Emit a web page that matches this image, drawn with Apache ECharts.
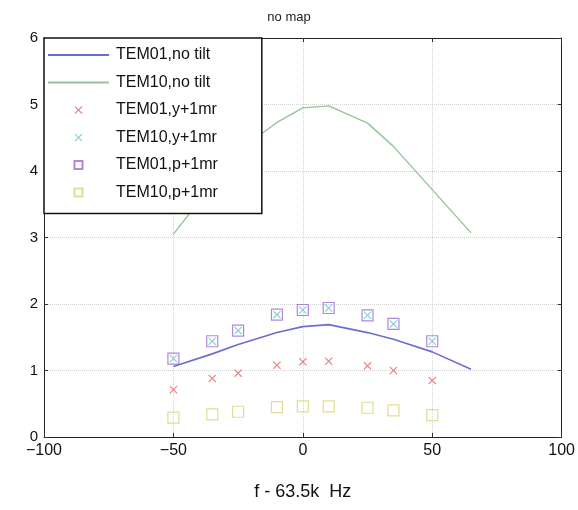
<!DOCTYPE html>
<html>
<head>
<meta charset="utf-8">
<script src="https://cdn.jsdelivr.net/npm/echarts@6/dist/echarts.min.js"></script>
<style>
  html, body { margin: 0; padding: 0; background: #fff; }
  #chart { width: 578px; height: 510px; }
</style>
</head>
<body>
<div id="chart"></div>
<script>
// Frequency offsets (Hz) of the measured points and of the model curves
const markerFreqs = [-50, -35, -25, -10, 0, 10, 25, 35, 50];
const curveFreqs = [-50, -35, -25, -10, 0, 10, 25, 35, 50, 65];

// Model curves without tilt
const tem01NoTilt = [1.06, 1.25, 1.39, 1.57, 1.66, 1.69, 1.57, 1.47, 1.28, 1.02];
const tem10NoTilt = [3.05, 3.80, 4.30, 4.73, 4.95, 4.98, 4.72, 4.37, 3.72, 3.07];

// Points with 1 mrad yaw / pitch
const tem01Yaw = [0.71, 0.88, 0.96, 1.08, 1.13, 1.14, 1.07, 1.00, 0.85];
const tem10Yaw = [1.18, 1.44, 1.60, 1.84, 1.91, 1.94, 1.83, 1.70, 1.44];
const tem01Pitch = [1.18, 1.44, 1.60, 1.84, 1.91, 1.94, 1.83, 1.70, 1.44];
const tem10Pitch = [0.29, 0.34, 0.38, 0.45, 0.46, 0.46, 0.44, 0.40, 0.33];

const xTicks = [-100, -50, 0, 50, 100];
const yTicks = [0, 1, 2, 3, 4, 5, 6];

const seriesNames = [
  'TEM01,no tilt', 'TEM10,no tilt',
  'TEM01,y+1mr', 'TEM10,y+1mr',
  'TEM01,p+1mr', 'TEM10,p+1mr'
];

const pairs = (xs, ys) => xs.map((x, i) => [x, ys[i]]);

// Cross marker as a filled outline, hollow square as a path so it keeps its aspect in the legend
const crossPath = 'path://M0,1L1,0L5,4L9,0L10,1L6,5L10,9L9,10L5,6L1,10L0,9L4,5Z';
const squarePath = 'path://M0,0L10,0L10,10L0,10Z';

const FONT = '"Liberation Sans", Arial, sans-serif';
const minusFmt = v => String(v).replace('-', '\u2212');

const chart = echarts.init(document.getElementById('chart'), null, { renderer: 'canvas' });

const axisLine = { show: true, onZero: false, lineStyle: { color: '#222', width: 1 } };
const tick = { show: true, inside: true, length: 4, lineStyle: { color: '#333' } };
const gridLine = { show: true, lineStyle: { color: '#d4d4d4', type: 'dotted', width: 1 } };

// Legend entries: lines show only their stroke, markers keep their shape
const noDot = { color: 'rgba(0,0,0,0)', borderWidth: 0 };
const legendData = [
  { name: seriesNames[0], itemStyle: noDot },
  { name: seriesNames[1], itemStyle: noDot },
  { name: seriesNames[2] },
  { name: seriesNames[3] },
  { name: seriesNames[4], icon: squarePath },
  { name: seriesNames[5], icon: squarePath }
];

chart.setOption({
  backgroundColor: '#fff',
  animation: false,
  title: {
    text: 'no map',
    left: 'center',
    top: 6,
    textStyle: { fontFamily: FONT, fontSize: 13, fontWeight: 'normal', color: '#222' }
  },
  grid: { left: 44, right: 15, top: 38, bottom: 73 },
  legend: {
    orient: 'vertical',
    left: 44,
    top: 38,
    data: legendData,
    backgroundColor: '#fff',
    borderColor: '#111',
    borderWidth: 1.5,
    borderRadius: 0,
    padding: [9, 44, 13, 3],
    itemWidth: 61,
    itemHeight: 8,
    itemGap: 11.5,
    symbolKeepAspect: true,
    textStyle: { fontFamily: FONT, fontSize: 16, lineHeight: 16, color: '#111', padding: [0, 0, 0, 2] },
    z: 10
  },
  xAxis: [
    {
      type: 'value', position: 'bottom', min: -100, max: 100, interval: 50,
      axisLine, axisTick: tick,
      axisLabel: { fontFamily: FONT, fontSize: 16, color: '#111', margin: 6, formatter: minusFmt },
      splitLine: gridLine,
      name: 'f - 63.5k  Hz', nameLocation: 'middle', nameGap: 46,
      nameTextStyle: { fontFamily: FONT, fontSize: 18, color: '#111' }
    },
    {
      type: 'value', position: 'top', min: -100, max: 100, interval: 50,
      axisLine, axisTick: tick, axisLabel: { show: false }, splitLine: { show: false }
    }
  ],
  yAxis: [
    {
      type: 'value', position: 'left', min: 0, max: 6, interval: 1,
      axisLine, axisTick: tick,
      axisLabel: { fontFamily: FONT, fontSize: 15, color: '#111', margin: 6 },
      splitLine: gridLine
    },
    {
      type: 'value', position: 'right', min: 0, max: 6, interval: 1,
      axisLine, axisTick: tick, axisLabel: { show: false }, splitLine: { show: false }
    }
  ],
  series: [
    {
      name: seriesNames[0], type: 'line', data: pairs(curveFreqs, tem01NoTilt),
      symbol: 'none', color: '#6c6cd2', lineStyle: { width: 1.6, color: '#6c6cd2' }
    },
    {
      name: seriesNames[1], type: 'line', data: pairs(curveFreqs, tem10NoTilt),
      symbol: 'none', color: '#97c497', lineStyle: { width: 1.4, color: '#97c497' }
    },
    {
      name: seriesNames[2], type: 'scatter', data: pairs(markerFreqs, tem01Yaw),
      symbol: crossPath, symbolSize: 8, symbolKeepAspect: true,
      itemStyle: { color: '#e46060' }
    },
    {
      name: seriesNames[3], type: 'scatter', data: pairs(markerFreqs, tem10Yaw),
      symbol: crossPath, symbolSize: 8, symbolKeepAspect: true,
      itemStyle: { color: '#5cc4d4' }
    },
    {
      name: seriesNames[4], type: 'scatter', data: pairs(markerFreqs, tem01Pitch),
      symbol: squarePath, symbolSize: 11, symbolKeepAspect: true,
      itemStyle: { color: 'rgba(0,0,0,0)', borderColor: '#9c6ccc', borderWidth: 1.2 }
    },
    {
      name: seriesNames[5], type: 'scatter', data: pairs(markerFreqs, tem10Pitch),
      symbol: squarePath, symbolSize: 11, symbolKeepAspect: true,
      itemStyle: { color: 'rgba(0,0,0,0)', borderColor: '#d6d67a', borderWidth: 1.2 }
    }
  ]
});
</script>
</body>
</html>
